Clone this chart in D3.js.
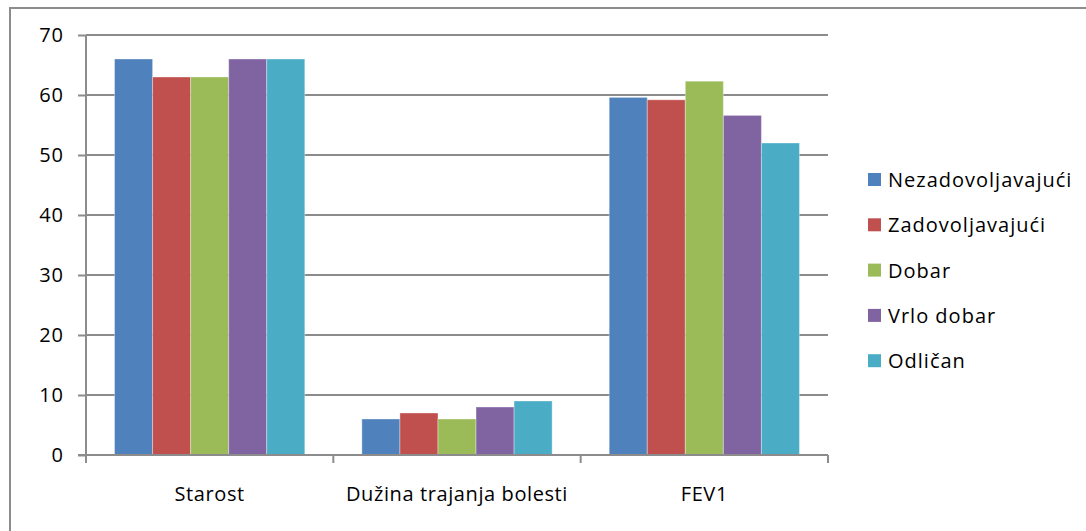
<!DOCTYPE html>
<html><head><meta charset="utf-8">
<script src="https://cdn.jsdelivr.net/npm/d3@7"></script>
<style>body{margin:0;background:#fff}svg{display:block}text{font-family:"Open Sans","Noto Sans",sans-serif;fill:#000}</style>
</head><body><svg id="c" width="1086" height="531"></svg>
<script>
const categories = ["Starost", "Dužina trajanja bolesti", "FEV1"];
const seriesNames = ["Nezadovoljavajući", "Zadovoljavajući", "Dobar", "Vrlo dobar", "Odličan"];
const nezadovoljavajuci = [66, 6, 59.6];
const zadovoljavajuci = [63, 7, 59.2];
const dobar = [63, 6, 62.3];
const vrloDobar = [66, 8, 56.6];
const odlican = [66, 9, 52];
const colors = ["#4f81bd", "#c0504d", "#9bbb59", "#8064a2", "#4bacc6"];
const yTicks = [0, 10, 20, 30, 40, 50, 60, 70];

const series = [nezadovoljavajuci, zadovoljavajuci, dobar, vrloDobar, odlican];
const svg = d3.select("#c");
svg.append("rect").attr("x", 10).attr("y", 8).attr("width", 1090).attr("height", 540)
  .attr("fill", "none").attr("stroke", "#8c8c8c").attr("stroke-width", 2);

const L = 86, R = 828, T = 35, B = 455;
const x = d3.scaleBand().domain(categories).range([L, R]).paddingInner(1.5/6.5).paddingOuter(0.75/6.5);
const x1 = d3.scaleBand().domain(d3.range(5)).range([0, x.bandwidth()]);
const y = d3.scaleLinear().domain([0, 70]).range([B, T]);

svg.append("g").selectAll("line").data(yTicks.slice(1)).join("line")
  .attr("x1", L).attr("x2", R).attr("y1", d => y(d)).attr("y2", d => y(d))
  .attr("stroke", "#8c8c8c").attr("stroke-width", 2);

const g = svg.append("g");
categories.forEach((c, ci) => {
  series.forEach((s, si) => {
    g.append("rect").attr("x", x(c) + x1(si)).attr("width", x1.bandwidth())
      .attr("y", y(s[ci])).attr("height", y(0) - y(s[ci]))
      .attr("fill", colors[si]).attr("stroke", "rgba(255,255,255,0.35)").attr("stroke-width", 1);
  });
});

const ya = svg.append("g").attr("transform", `translate(${L},0)`)
  .call(d3.axisLeft(y).tickValues(yTicks).tickSize(8).tickPadding(14).tickFormat(d3.format("d")));
ya.select(".domain").attr("stroke", "#8c8c8c").attr("stroke-width", 2).attr("d", `M0,${T}V${B}`);
ya.selectAll(".tick line").attr("stroke", "#8c8c8c").attr("stroke-width", 2);
ya.selectAll("text").style("font-size", "20px").style("letter-spacing", "1px").style("font-family", "'Open Sans'").attr("fill", "#000");

svg.append("line").attr("x1", L - 8).attr("x2", R).attr("y1", B).attr("y2", B)
  .attr("stroke", "#8c8c8c").attr("stroke-width", 2);
const edges = [L, ...categories.slice(1).map(c => x(c) - x.step()*x.paddingInner()/2), R];
svg.append("g").selectAll("line").data(edges).join("line")
  .attr("x1", d => d).attr("x2", d => d).attr("y1", B).attr("y2", B + 8)
  .attr("stroke", "#8c8c8c").attr("stroke-width", 2);
svg.append("g").selectAll("text").data(categories).join("text")
  .attr("x", d => x(d) + x.bandwidth()/2).attr("y", 501).attr("text-anchor", "middle")
  .style("font-size", "20px").style("letter-spacing", "0.6px").text(d => d);

const lg = svg.append("g");
seriesNames.forEach((n, i) => {
  const cy = 180 + i * 45.3;
  lg.append("rect").attr("x", 868).attr("y", cy - 7).attr("width", 13).attr("height", 13).attr("fill", colors[i]);
  lg.append("text").attr("x", 888).attr("y", cy + 7).style("font-size", "20px").style("letter-spacing", "1px").text(n);
});
</script></body></html>
